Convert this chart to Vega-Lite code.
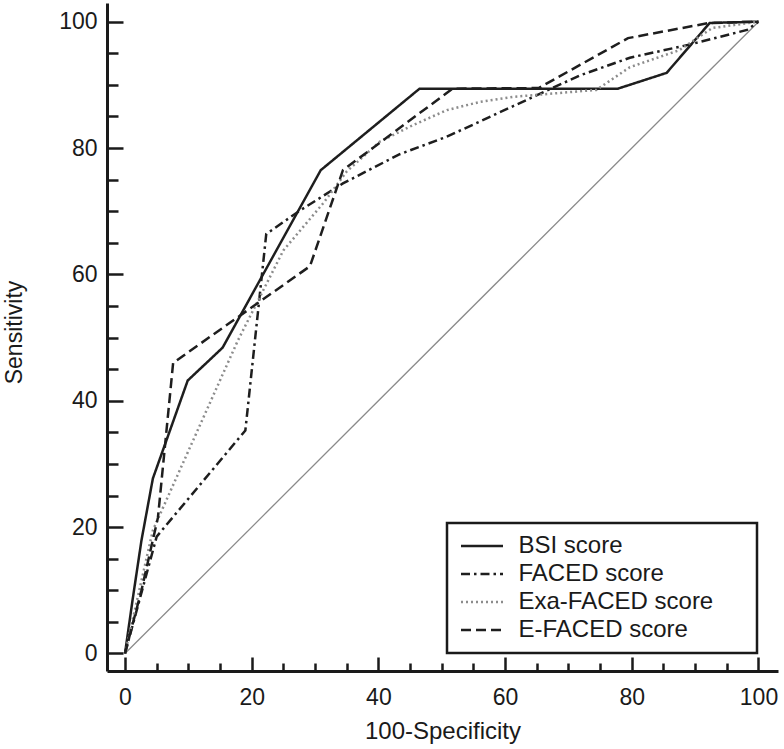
{
  "$schema": "https://vega.github.io/schema/vega-lite/v6.json",
  "width": 671,
  "height": 668,
  "autosize": "none",
  "padding": {"left": 107, "top": 3, "right": 6, "bottom": 78},
  "config": {
    "view": {"stroke": null},
    "font": "Liberation Sans",
    "axis": {"grid": false, "labelFlush": false, "labelOverlap": false}
  },
  "datasets": {
    "diag": [{"x": 0, "y": 0}, {"x": 100, "y": 100}],
    "roc": [
      {"score": "BSI score", "x": 0, "y": 0},
      {"score": "BSI score", "x": 1.2, "y": 8.5},
      {"score": "BSI score", "x": 2.6, "y": 17.9},
      {"score": "BSI score", "x": 4.4, "y": 27.7},
      {"score": "BSI score", "x": 9.9, "y": 43.2},
      {"score": "BSI score", "x": 15.4, "y": 48.4},
      {"score": "BSI score", "x": 30.9, "y": 76.5},
      {"score": "BSI score", "x": 46.5, "y": 89.4},
      {"score": "BSI score", "x": 77.8, "y": 89.4},
      {"score": "BSI score", "x": 85.5, "y": 91.9},
      {"score": "BSI score", "x": 92.3, "y": 99.8},
      {"score": "BSI score", "x": 100, "y": 100},
      {"score": "FACED score", "x": 0, "y": 0},
      {"score": "FACED score", "x": 5, "y": 18.5},
      {"score": "FACED score", "x": 19, "y": 35.3},
      {"score": "FACED score", "x": 22.3, "y": 66.4},
      {"score": "FACED score", "x": 27.6, "y": 70.1},
      {"score": "FACED score", "x": 34.4, "y": 74.4},
      {"score": "FACED score", "x": 43.3, "y": 79},
      {"score": "FACED score", "x": 50.8, "y": 81.8},
      {"score": "FACED score", "x": 61.2, "y": 86.6},
      {"score": "FACED score", "x": 71.8, "y": 91.5},
      {"score": "FACED score", "x": 79.7, "y": 94.3},
      {"score": "FACED score", "x": 89.2, "y": 96.4},
      {"score": "FACED score", "x": 98.2, "y": 98.7},
      {"score": "FACED score", "x": 100, "y": 100},
      {"score": "Exa-FACED score", "x": 0, "y": 0},
      {"score": "Exa-FACED score", "x": 4.4, "y": 19.5},
      {"score": "Exa-FACED score", "x": 17.8, "y": 49.5},
      {"score": "Exa-FACED score", "x": 25, "y": 63.8},
      {"score": "Exa-FACED score", "x": 31.4, "y": 71.4},
      {"score": "Exa-FACED score", "x": 35, "y": 76.3},
      {"score": "Exa-FACED score", "x": 40.2, "y": 81},
      {"score": "Exa-FACED score", "x": 45.4, "y": 83.6},
      {"score": "Exa-FACED score", "x": 50.8, "y": 86},
      {"score": "Exa-FACED score", "x": 56, "y": 87.3},
      {"score": "Exa-FACED score", "x": 61.2, "y": 88.1},
      {"score": "Exa-FACED score", "x": 74.4, "y": 89.2},
      {"score": "Exa-FACED score", "x": 79.7, "y": 92.8},
      {"score": "Exa-FACED score", "x": 87.5, "y": 95.5},
      {"score": "Exa-FACED score", "x": 92.7, "y": 99},
      {"score": "Exa-FACED score", "x": 100, "y": 100},
      {"score": "E-FACED score", "x": 0, "y": 0},
      {"score": "E-FACED score", "x": 2.6, "y": 10},
      {"score": "E-FACED score", "x": 5.2, "y": 21.5},
      {"score": "E-FACED score", "x": 7.6, "y": 46},
      {"score": "E-FACED score", "x": 29.2, "y": 61.3},
      {"score": "E-FACED score", "x": 34.4, "y": 76.5},
      {"score": "E-FACED score", "x": 51.7, "y": 89.4},
      {"score": "E-FACED score", "x": 65.3, "y": 89.5},
      {"score": "E-FACED score", "x": 79.4, "y": 97.4},
      {"score": "E-FACED score", "x": 92.2, "y": 99.8},
      {"score": "E-FACED score", "x": 100, "y": 100}
    ]
  },
  "layer": [
    {
      "data": {"name": "diag"},
      "mark": {"type": "line", "color": "#8a8a8a", "strokeWidth": 1.3},
      "encoding": {
        "x": {
          "field": "x", "type": "quantitative",
          "scale": {"domain": [-2.84, 103.08], "nice": false, "zero": false},
          "axis": {
            "orient": "bottom",
            "values": [0, 20, 40, 60, 80, 100],
            "tickSize": -14, "tickWidth": 2.5, "tickColor": "#1a1a1a",
            "domainWidth": 3, "domainColor": "#1a1a1a",
            "labelFontSize": 23, "labelColor": "#1a1a1a", "labelPadding": 29,
            "title": "100-Specificity", "titleFontSize": 24, "titleFontWeight": "normal",
            "titleColor": "#1a1a1a", "titleY": 67, "titleBaseline": "alphabetic"
          }
        },
        "y": {
          "field": "y", "type": "quantitative",
          "scale": {"domain": [-2.77, 102.96], "nice": false, "zero": false},
          "axis": {
            "orient": "left",
            "values": [0, 20, 40, 60, 80, 100],
            "tickSize": -16, "tickWidth": 2.5, "tickColor": "#1a1a1a",
            "domainWidth": 3, "domainColor": "#1a1a1a",
            "labelFontSize": 23, "labelColor": "#1a1a1a", "labelPadding": 26,
            "title": "Sensitivity", "titleFontSize": 23, "titleFontWeight": "normal",
            "titleColor": "#1a1a1a", "titleX": -86, "titleY": 329, "titleBaseline": "alphabetic"
          }
        }
      }
    },
    {
      "data": {"name": "roc"},
      "mark": {"type": "line", "strokeWidth": 2.5},
      "encoding": {
        "x": {
          "field": "x", "type": "quantitative",
          "axis": {
            "orient": "bottom",
            "values": [5, 10, 15, 25, 30, 35, 45, 50, 55, 65, 70, 75, 85, 90, 95],
            "tickSize": -8, "tickWidth": 2.5, "tickColor": "#1a1a1a",
            "domain": false, "labels": false, "title": null
          }
        },
        "y": {
          "field": "y", "type": "quantitative",
          "axis": {
            "orient": "left",
            "values": [5, 10, 15, 25, 30, 35, 45, 50, 55, 65, 70, 75, 85, 90, 95],
            "tickSize": -11, "tickWidth": 2.5, "tickColor": "#1a1a1a",
            "domain": false, "labels": false, "title": null
          }
        },
        "color": {
          "field": "score", "type": "nominal",
          "scale": {
            "domain": ["BSI score", "FACED score", "Exa-FACED score", "E-FACED score"],
            "range": ["#1e1e1e", "#1e1e1e", "#8c8c8c", "#1e1e1e"]
          },
          "legend": {
            "title": null, "orient": "none", "legendX": 340, "legendY": 520,
            "strokeColor": "#1a1a1a", "padding": 11, "rowPadding": 4,
            "symbolType": "M-2,0L2,0M24.6,0L24.6,0", "symbolSize": 441, "symbolStrokeWidth": 2.5,
            "symbolOffset": 12, "labelOffset": 24.5,
            "labelFontSize": 24, "labelColor": "#1a1a1a", "labelLimit": 400,
            "encode": {
              "legend": {"update": {"strokeWidth": {"value": 2.5}}}
            }
          }
        },
        "strokeDash": {
          "field": "score", "type": "nominal",
          "scale": {
            "domain": ["BSI score", "FACED score", "Exa-FACED score", "E-FACED score"],
            "range": [[1, 0], [9, 4, 2.5, 4], [2, 3], [10, 5]]
          },
          "legend": {
            "title": null, "orient": "none", "legendX": 340, "legendY": 520,
            "strokeColor": "#1a1a1a", "padding": 11, "rowPadding": 4,
            "symbolType": "M-2,0L2,0M24.6,0L24.6,0", "symbolSize": 441, "symbolStrokeWidth": 2.5,
            "symbolOffset": 12, "labelOffset": 24.5,
            "labelFontSize": 24, "labelColor": "#1a1a1a", "labelLimit": 400,
            "encode": {
              "legend": {"update": {"strokeWidth": {"value": 2.5}}}
            }
          }
        }
      }
    }
  ],
  "resolve": {"axis": {"x": "independent", "y": "independent"}}
}
